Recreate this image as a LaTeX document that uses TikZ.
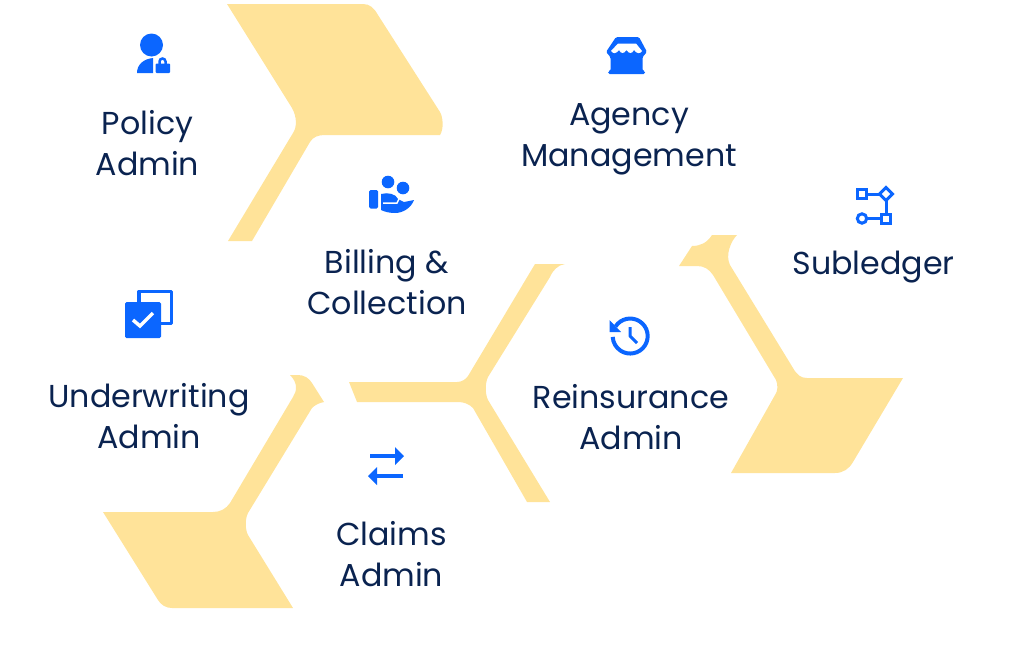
\documentclass[tikz,border=0pt]{standalone}
\usepackage{fontspec}
\setmainfont{Poppins}
\definecolor{petal}{HTML}{FFE399}
\definecolor{iconblue}{HTML}{0B66FF}
\definecolor{labelnavy}{HTML}{0A2350}
\tikzset{
  petalshape/.style={fill=petal},
  iconfill/.style={fill=iconblue},
  iconline/.style={draw=iconblue,line width=3},
  modlabel/.style={text=labelnavy,align=center,inner sep=0pt,font=\fontsize{31.7}{41}\selectfont},
}

\begin{document}
\begin{tikzpicture}[x=1pt,y=-1pt]
  \useasboundingbox (0,0) rectangle (1024,648);

  % 1. Yellow shapes
  \fill[petalshape] (227,4) -- (363,4) .. controls (370,4) and (374,8) .. (378,15)
    -- (440,112) .. controls (443,117) and (444,129) .. (440,135)
    -- (325,135) .. controls (318,135) and (313,137) .. (310,142)
    -- (252,241) -- (228,241) -- (293,133)
    .. controls (297,127) and (297,117) .. (292,108) -- cycle;
  \fill[petalshape] (535,264) -- (565,264) .. controls (558,265) and (553,270) .. (550,277)
    -- (488,377) .. controls (485,383) and (485,394) .. (488,400)
    -- (550,502) -- (527,502) -- (473,408)
    .. controls (469,404) and (464,402) .. (458,402)
    -- (357,402) -- (349,382) -- (457,382)
    .. controls (462,382) and (466,379) .. (468,376) -- cycle;
  \fill[petalshape] (103,512) -- (213,512) .. controls (220,512) and (226,509) .. (230,503)
    -- (293,397) .. controls (297,391) and (298,383) .. (290,375)
    -- (298,375) .. controls (304,375) and (309,378) .. (312,383)
    -- (324,402) .. controls (319,403) and (315,405) .. (312,408)
    -- (248,513) .. controls (245,519) and (245,529) .. (248,535)
    -- (293,608) -- (172,608) .. controls (166,608) and (161,605) .. (158,600) -- cycle;
  \fill[petalshape] (712,235) -- (737,235) .. controls (731,241) and (725,255) .. (730,265)
    -- (793,368) .. controls (797,375) and (801,378) .. (807,378)
    -- (903,378) -- (853,462) .. controls (849,469) and (843,473) .. (835,473)
    -- (731,473) -- (775,395) .. controls (778,391) and (778,385) .. (776,380)
    -- (713,275) .. controls (709,269) and (704,266) .. (697,266)
    -- (679,266) -- (692,246) .. controls (700,246) and (707,243) .. (712,235) -- cycle;

  % 2. Labels
  \node[modlabel] (policy) at (147.5,143) {Policy\\Admin};
  \node[modlabel] (agency) at (629,139.5) {Agency\\Management};
  \node[modlabel] (billing) at (387,282) {Billing \&\\Collection};
  \node[modlabel] (subledger) at (873.5,267.5) {Subledger};
  \node[modlabel] (underwriting) at (149,416) {Underwriting\\Admin};
  \node[modlabel] (reinsurance) at (631,417.5) {Reinsurance\\Admin};
  \node[modlabel] (claims) at (391.5,554.5) {Claims\\Admin};

  % 3. Policy icon
  \fill[iconfill] (151.5,45) circle (11.5);
  \fill[iconfill] (137,73) .. controls (137,65) and (143,59) .. (153,58) -- (153,73) -- cycle;
  \fill[iconfill,rounded corners=1] (155.5,63.5) rectangle (170,73);
  \draw[iconblue,line width=2.5] (159.5,64) -- (159.5,61.5) arc[start angle=180,end angle=360,radius=3] -- (165.5,64);

  % 4. Agency icon
  \fill[iconfill,rounded corners=1.5] (616,37) -- (639,37) -- (647,52) -- (642.5,57) -- (642.5,71)
    -- (645,71) -- (645,74) -- (608,74) -- (608,71) -- (610.5,71) -- (610.5,57) -- (606,52) -- cycle;
  \fill[white] (618,43.5) -- (636,43.5) -- (642,51)
    .. controls (640,54) and (637,54) .. (634,50) .. controls (632,54) and (629,54) .. (626.5,50)
    .. controls (624,54) and (621,54) .. (619,50) .. controls (616,54) and (613,54) .. (611,51) -- cycle;

  % 5. Subledger icon
  \draw[iconblue,line width=3] (866,194) -- (881,194) (886,199) -- (886,214) (867,218.5) -- (881,218.5);
  \draw[iconline] (857.5,189.5) rectangle (866.5,198.5);
  \draw[iconline] (881.5,214) rectangle (890.5,223);
  \draw[iconline] (862,218.5) circle (4.7);
  \draw[iconline] (886,187.5) -- (892.5,194) -- (886,200.5) -- (879.5,194) -- cycle;

  % 6. Billing icon
  \fill[iconfill] (388,182) circle (6.3);
  \fill[iconfill] (403,188) circle (6.3);
  \fill[iconfill,rounded corners=1.5] (369,190) rectangle (378,208.5);
  \fill[iconfill] (381,194) .. controls (388,192) and (396,194) .. (398,199)
    -- (404,202) -- (414,200) .. controls (411,208) and (403,213) .. (395,213)
    .. controls (390,213) and (385,212) .. (381,210) -- cycle;
  \draw[white,line width=1.5] (383,203) -- (397,203) -- (399,199);

  % 7. Underwriting icon
  \draw[iconline,line join=round,line width=3.5] (139,303) -- (139,291.5) -- (171.5,291.5) -- (171.5,323.5) -- (160,323.5);
  \fill[iconfill,rounded corners=1.5] (125,302) rectangle (161,338);
  \draw[white,line width=3.5] (133,320) -- (140,326) -- (153,313);

  % 8. Reinsurance icon
  \draw[iconblue,line width=4] (615.5,326.5) arc[start angle=213,end angle=537,radius=17.5];
  \fill[iconfill] (609.5,320) -- (609.5,332) -- (621,332) -- cycle;
  \draw[iconblue,line width=3,line join=round] (630,327) -- (630,336) -- (637,343);

  % 9. Claims icon
  \draw[iconblue,line width=3.5] (370,456) -- (396,456);
  \fill[iconfill] (395,447) -- (404,456) -- (395,465) -- cycle;
  \draw[iconblue,line width=3.5] (403,476) -- (376,476);
  \fill[iconfill] (377,467) -- (368,476) -- (377,485) -- cycle;
\end{tikzpicture}
\end{document}
